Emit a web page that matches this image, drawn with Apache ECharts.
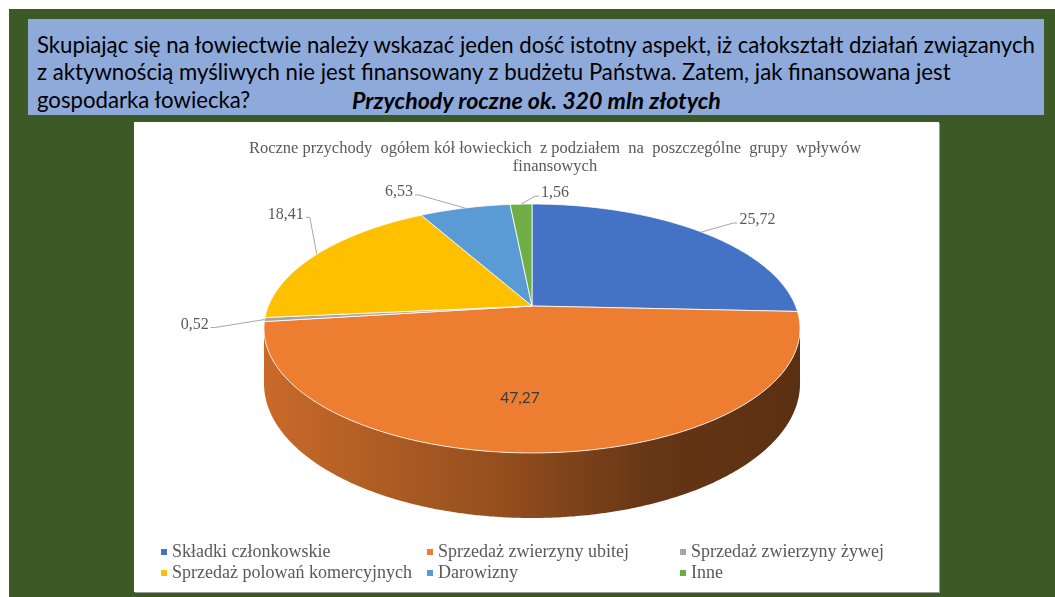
<!DOCTYPE html>
<html>
<head>
<meta charset="utf-8">
<script src="https://cdn.jsdelivr.net/npm/echarts@6/dist/echarts.min.js"></script>
<style>
html, body { margin: 0; padding: 0; background: #fff; }
#bg { position: absolute; left: 9px; top: 9px; width: 1046px; height: 588px; background: #3b5a25; }
#head { position: absolute; left: 28px; top: 19px; width: 1016px; height: 96px; background: #8eaadb; }
#head div { position: absolute; left: 9px; white-space: nowrap; font-family: Lato, "Open Sans", sans-serif; font-size: 22.2px; line-height: 28px; color: #000; }
#head b { position: absolute; left: 315px; font-style: italic; font-weight: bold; font-size: 23.2px; }
#chart { position: absolute; left: 134px; top: 122px; width: 805px; height: 470px; background: #fff; box-shadow: 1px 1px 0 #9a9a9a; }
</style>
</head>
<body>
<div id="bg"></div>
<div id="head">
  <div style="top:12px">Skupiając się na łowiectwie należy wskazać jeden dość istotny aspekt, iż całokształt działań związanych</div>
  <div style="top:39px">z aktywnością myśliwych nie jest finansowany z budżetu Państwa. Zatem, jak finansowana jest</div>
  <div style="top:67px;width:1000px">gospodarka łowiecka?<b>Przychody roczne ok. 320 mln złotych</b></div>
</div>
<div id="chart"></div>
<script>
// dane: przychody kół łowieckich (%)
var categories = ['Składki członkowskie', 'Sprzedaż zwierzyny ubitej', 'Sprzedaż zwierzyny żywej',
                  'Sprzedaż polowań komercyjnych', 'Darowizny', 'Inne'];
var values = [25.72, 47.27, 0.52, 18.41, 6.53, 1.56];
var colors = ['#4472c4', '#ed7d31', '#a5a5a5', '#ffc000', '#5b9bd5', '#70ad47'];

// geometria "3D" tortu (perspektywa)
var cx = 398, cy = 184;      // wierzchołek
var A = 263.6, B = 120.4;    // półosie
var k = 0.1807;              // perspektywa
var H = 53.3;                // grubość
// przesunięcia etykiet względem punktu na krawędzi
var labelNudge = [[32, -9], [-20, 2], [-50, 8], [-7, -37], [-46, -13], [14, -8]];

var total = 0;
values.forEach(function (v) { total += v; });
var starts = [0];
values.forEach(function (v, i) { starts.push(starts[i] + v / total * Math.PI * 2); });
var sil0 = Math.acos(-k), sil1 = Math.PI * 2 - Math.acos(-k);

function darken(hex, f) {
  var n = parseInt(hex.slice(1), 16);
  var r = Math.round(((n >> 16) & 255) * f), g = Math.round(((n >> 8) & 255) * f), b = Math.round((n & 255) * f);
  return 'rgb(' + r + ',' + g + ',' + b + ')';
}
function proj(t, r, drop) {
  var u = r * Math.sin(t), v = -r * Math.cos(t);
  var s = 1 / (1 - k * v);
  return [cx + A * u * s, cy + B * v * s + (drop || 0) * s];
}
function arc(a0, a1, r, drop) {
  var pts = [];
  var n = Math.max(2, Math.ceil((a1 - a0) / 0.01));
  for (var j = 0; j <= n; j++) pts.push(proj(a0 + (a1 - a0) * j / n, r, drop));
  return pts;
}

function renderSlice(i) {
  return function (params, api) {
    var a0 = starts[i], a1 = starts[i + 1];
    var color = colors[i];
    var children = [];
    // ściana boczna
    var s0 = Math.max(a0, sil0), s1 = Math.min(a1, sil1);
    if (s1 > s0) {
      var side = arc(s0, s1, 1, 0).concat(arc(s0, s1, 1, H).reverse());
      children.push({
        type: 'polygon', z2: 1,
        shape: { points: side },
        style: {
          fill: {
            type: 'linear', global: true, x: cx - A * 1.02, y: 0, x2: cx + A * 1.02, y2: 0,
            colorStops: [
              { offset: 0, color: darken(color, 0.85) },
              { offset: 0.45, color: darken(color, 0.62) },
              { offset: 0.72, color: darken(color, 0.43) },
              { offset: 1, color: darken(color, 0.38) }
            ]
          }
        }
      });
    }
    // wierzch
    children.push({
      type: 'polygon', z2: 10,
      shape: { points: [[cx, cy]].concat(arc(a0, a1, 1, 0)) },
      style: { fill: color, stroke: '#fff', lineWidth: 0.8 }
    });
    // etykieta
    var txt = values[i].toFixed(2).replace('.', ',');
    var mid = (a0 + a1) / 2;
    var nd = labelNudge[i];
    var lblFont = '16px "Liberation Serif", "Times New Roman", serif';
    if (i === 1) {
      var p = proj(mid, 0.66, 0);
      children.push({
        type: 'text', z2: 30, x: p[0] + nd[0], y: p[1] + nd[1],
        style: { text: txt, textAlign: 'center', textVerticalAlign: 'middle',
                 font: '15.5px Lato, "Open Sans", sans-serif', fill: '#3a3a3a' }
      });
    } else {
      var an = proj(mid, 1, 0);
      var el = [an[0] + nd[0], an[1] + nd[1]];
      var dir = nd[0] > 0 ? 1 : -1;
      var tail = [el[0] + dir * 4, el[1]];
      children.push({
        type: 'polyline', z2: 20,
        shape: { points: [an, el, tail] },
        style: { stroke: '#a6a6a6', lineWidth: 1, fill: null }
      });
      children.push({
        type: 'text', z2: 30, x: tail[0] + dir * 2, y: tail[1] - 3,
        style: { text: txt, textAlign: dir > 0 ? 'left' : 'right', textVerticalAlign: 'middle',
                 font: lblFont, fill: '#595959' }
      });
    }
    return { type: 'group', children: children };
  };
}

var series = categories.map(function (name, i) {
  return {
    name: name,
    type: 'custom',
    coordinateSystem: 'none',
    itemStyle: { color: colors[i] },
    data: [values[i]],
    renderItem: renderSlice(i)
  };
});

function legendCol(items, left) {
  return {
    data: items, left: left, top: 421, orient: 'vertical',
    icon: 'rect', itemWidth: 6, itemHeight: 6, itemGap: 3, padding: 0,
    selectedMode: false,
    textStyle: { fontFamily: '"Liberation Serif", serif', fontSize: 18, color: '#595959', lineHeight: 18 }
  };
}

var myChart = echarts.init(document.getElementById('chart'));
var option = {
  animation: false,
  graphic: [{
    type: 'text', x: 421, y: 36,
    style: {
      text: 'Roczne przychody  ogółem kół łowieckich  z podziałem  na  poszczególne  grupy  wpływów\nfinansowych',
      textAlign: 'center', textVerticalAlign: 'middle', lineHeight: 18,
      font: '16.5px "Liberation Serif", serif', fill: '#595959'
    }
  }],
  legend: [
    legendCol([categories[0], categories[3]], 27),
    legendCol([categories[1], categories[4]], 293),
    legendCol([categories[2], categories[5]], 546)
  ],
  series: series
};
myChart.setOption(option);
</script>
</body>
</html>
